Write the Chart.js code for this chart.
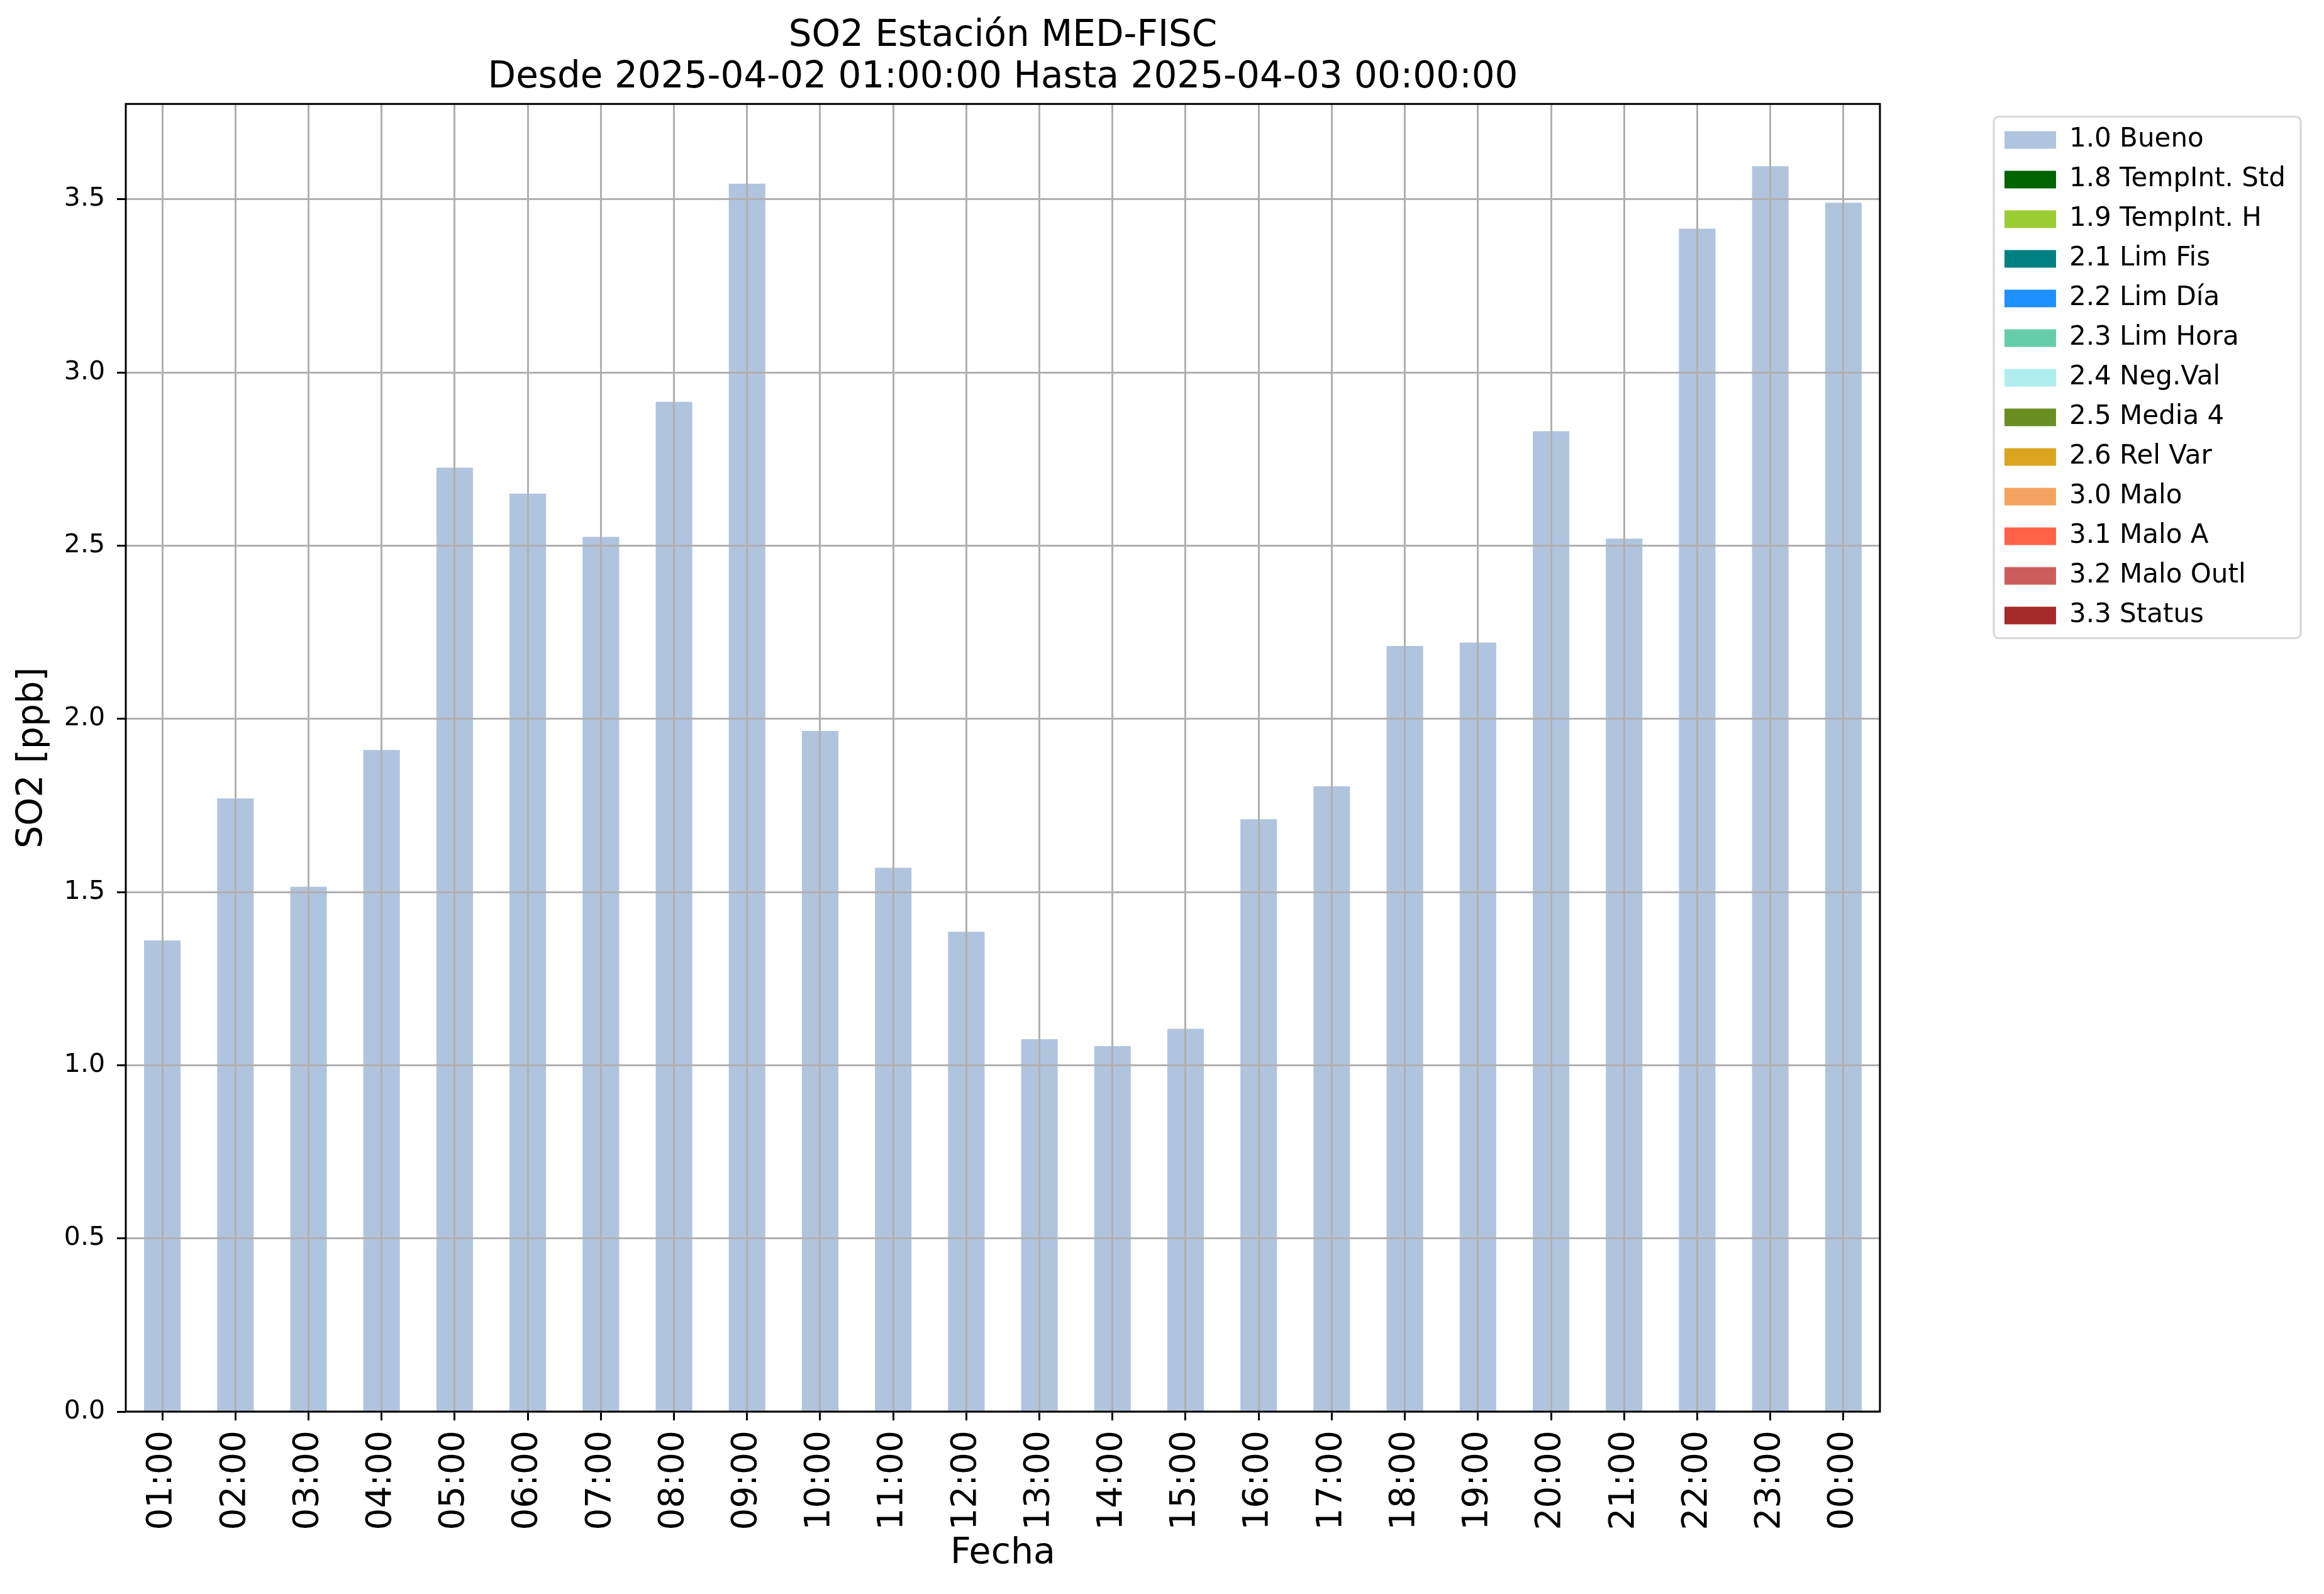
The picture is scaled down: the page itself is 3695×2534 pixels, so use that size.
<!DOCTYPE html>
<html lang="es">
<head>
  <meta charset="UTF-8">
  <title>SO2 Estación MED-FISC</title>
  <script src="https://cdn.jsdelivr.net/npm/chart.js"></script>
  <style>
    html, body { margin: 0; padding: 0; background: #ffffff; }
    canvas { display: block; }
  </style>
</head>
<body>
  <canvas id="so2Chart" width="3695" height="2534" style="width:3695px;height:2534px"></canvas>

  <script>
    // Horas (eje x) y valores SO2 [ppb]
    const horas = ['01:00', '02:00', '03:00', '04:00', '05:00', '06:00', '07:00', '08:00',
                   '09:00', '10:00', '11:00', '12:00', '13:00', '14:00', '15:00', '16:00',
                   '17:00', '18:00', '19:00', '20:00', '21:00', '22:00', '23:00', '00:00'];
    const so2Bueno = [1.36, 1.77, 1.515, 1.91, 2.725, 2.65, 2.525, 2.915,
                      3.545, 1.965, 1.57, 1.385, 1.075, 1.055, 1.105, 1.71,
                      1.805, 2.21, 2.22, 2.83, 2.52, 3.415, 3.595, 3.49];

    // Categorias de calidad del dato (solo 1.0 tiene valores en este periodo)
    const calidades = ['1.0 Bueno', '1.8 TempInt. Std', '1.9 TempInt. H', '2.1 Lim Fis',
                       '2.2 Lim Día', '2.3 Lim Hora', '2.4 Neg.Val', '2.5 Media 4',
                       '2.6 Rel Var', '3.0 Malo', '3.1 Malo A', '3.2 Malo Outl', '3.3 Status'];
    const coloresCalidad = ['#b0c4de', '#006400', '#9acd32', '#008080', '#1e90ff', '#66cdaa',
                            '#afeeee', '#6b8e23', '#daa520', '#f4a460', '#ff6347', '#cd5c5c', '#a52a2a'];
    const yTicks = [0.0, 0.5, 1.0, 1.5, 2.0, 2.5, 3.0, 3.5];
    const yMax = 3.775;

    Chart.defaults.font.family = "'DejaVu Sans', sans-serif";
    Chart.defaults.color = '#000000';

    // Marco negro del area de grafico y recuadro de la leyenda
    const marco = {
      id: 'marco',
      afterDraw(chart) {
        const ctx = chart.ctx;
        const a = chart.chartArea;
        ctx.save();
        ctx.strokeStyle = '#000000';
        ctx.lineWidth = 3;
        ctx.strokeRect(a.left, a.top, a.right - a.left, a.bottom - a.top);

        const hb = chart.legend.legendHitBoxes;
        if (hb && hb.length) {
          const h = hb[0].height;
          const left = hb[0].left - 17;
          const right = Math.max(...hb.map(b => b.left + b.width)) + 24;
          const top = hb[0].top + h / 2 - 37;
          const bottom = hb[hb.length - 1].top + h / 2 + 36;
          ctx.strokeStyle = '#d6d6d6';
          ctx.lineWidth = 3;
          ctx.beginPath();
          ctx.roundRect(left, top, right - left, bottom - top, 8);
          ctx.stroke();
        }
        ctx.restore();
      }
    };

    const ctx = document.getElementById('so2Chart').getContext('2d');
    new Chart(ctx, {
      type: 'bar',
      data: {
        labels: horas,
        datasets: calidades.map((nombre, i) => ({
          label: nombre,
          data: i === 0 ? so2Bueno : [],
          backgroundColor: coloresCalidad[i],
          borderWidth: 0,
          barPercentage: 0.5,
          categoryPercentage: 1.0
        }))
      },
      options: {
        responsive: false,
        animation: false,
        devicePixelRatio: 1,
        layout: { padding: { left: 0, right: 51, top: 0, bottom: 0 } },
        scales: {
          x: {
            stacked: true,
            offset: true,
            grid: {
              offset: false,
              color: '#b0b0b0',
              lineWidth: 3,
              z: 1,
              tickColor: '#000000',
              tickWidth: 3,
              tickLength: 14
            },
            border: { display: false },
            ticks: {
              autoSkip: false,
              minRotation: 90,
              maxRotation: 90,
              padding: 16,
              font: { size: 55 }
            },
            title: {
              display: true,
              text: 'Fecha',
              font: { size: 57 },
              padding: { top: 0, bottom: 30 }
            },
            afterFit(scale) { scale.height = 290; }
          },
          y: {
            stacked: true,
            min: 0,
            max: yMax,
            afterBuildTicks(scale) { scale.ticks = yTicks.map(v => ({ value: v })); },
            grid: {
              color: '#b0b0b0',
              lineWidth: 3,
              z: 1,
              tickColor: '#000000',
              tickWidth: 3,
              tickLength: 14
            },
            border: { display: false },
            ticks: {
              padding: 19,
              font: { size: 41 },
              callback: v => Number(v).toFixed(1)
            },
            title: {
              display: true,
              text: 'SO2 [ppb]',
              font: { size: 57 },
              padding: { top: 18, bottom: 0 }
            },
            afterFit(scale) { scale.width = 200; }
          },
          // eje vacio: deja el hueco entre el grafico y la leyenda
          hueco: {
            type: 'linear',
            position: 'right',
            display: true,
            grid: { display: false },
            border: { display: false },
            ticks: { display: false },
            afterFit(scale) { scale.width = 177; }
          }
        },
        plugins: {
          title: {
            display: true,
            fullSize: false,
            text: ['SO2 Estación MED-FISC', 'Desde 2025-04-02 01:00:00 Hasta 2025-04-03 00:00:00'],
            font: { size: 58, weight: 'normal', lineHeight: 1.14 },
            color: '#000000',
            padding: { top: 25, bottom: 8 }
          },
          legend: {
            position: 'right',
            align: 'start',
            fullSize: false,
            title: { display: true, text: ' ', font: { size: 1 }, padding: 7 },
            labels: {
              boxWidth: 82,
              boxHeight: 28,
              padding: 21,
              color: '#000000',
              font: { size: 42 }
            }
          },
          tooltip: { enabled: false }
        }
      },
      plugins: [marco]
    });
  </script>
</body>
</html>
